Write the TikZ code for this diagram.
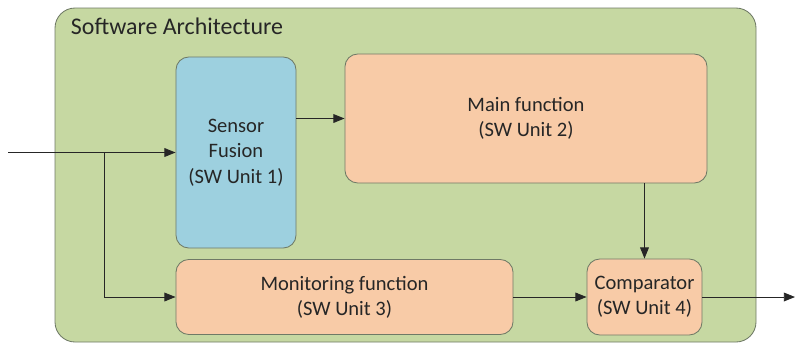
\documentclass[tikz,border=0pt]{standalone}
\usepackage{fontspec}
\setmainfont{Carlito}
\usetikzlibrary{arrows.meta, positioning}

\definecolor{archgreen}{HTML}{C6D8A2}
\definecolor{unitblue}{HTML}{9DD0DF}
\definecolor{unitorange}{HTML}{F8CBA7}
\definecolor{edgegray}{HTML}{6F7A66}
\definecolor{txtgray}{HTML}{262626}

\begin{document}
\begin{tikzpicture}[x=0.025cm, y=-0.025cm,
    unit/.style={draw=edgegray, line width=0.6pt, rounded corners=0.32cm,
        align=center, text=txtgray, font=\fontsize{14.6}{18}\selectfont, inner sep=0pt},
    flow/.style={-{Triangle[length=2.8mm, width=2.2mm]}, line width=0.65pt, color=black!85}]
\useasboundingbox (0,0) rectangle (796,344);

% Outer software architecture frame
\draw[fill=archgreen, draw=edgegray, line width=0.6pt, rounded corners=0.5cm] (55,8) rectangle (756,342);
\node[anchor=west, text=txtgray, font=\fontsize{17}{20}\selectfont] (title) at (66,26) {Software Architecture};

% SW units
\node[unit, fill=unitblue, minimum width=3cm, minimum height=4.775cm] (sensor) at (236,152.5) {Sensor\\Fusion\\(SW Unit 1)};
\node[unit, fill=unitorange, minimum width=9.05cm, minimum height=3.225cm] (main) at (526,118.5) {Main function\\(SW Unit 2)};
\node[unit, fill=unitorange, minimum width=8.425cm, minimum height=1.875cm] (monitor) at (344.5,297) {Monitoring function\\(SW Unit 3)};
\node[unit, fill=unitorange, minimum width=2.875cm, minimum height=1.9cm] (comp) at (644.5,297) {Comparator\\(SW Unit 4)};

% Signal in / out
\coordinate (in) at (8,152.5);
\coordinate (split) at (104,152.5);
\coordinate (out) at (795,297);

% Connectors
\draw[flow] (in) -- (sensor.west);
\draw[flow] (split) |- (monitor.west);
\draw[flow] (sensor.east |- main.west) -- (main.west);
\draw[flow] (main.south -| comp.north) -- (comp.north);
\draw[flow] (monitor.east) -- (comp.west);
\draw[flow] (comp.east) -- (out);
\end{tikzpicture}
\end{document}
